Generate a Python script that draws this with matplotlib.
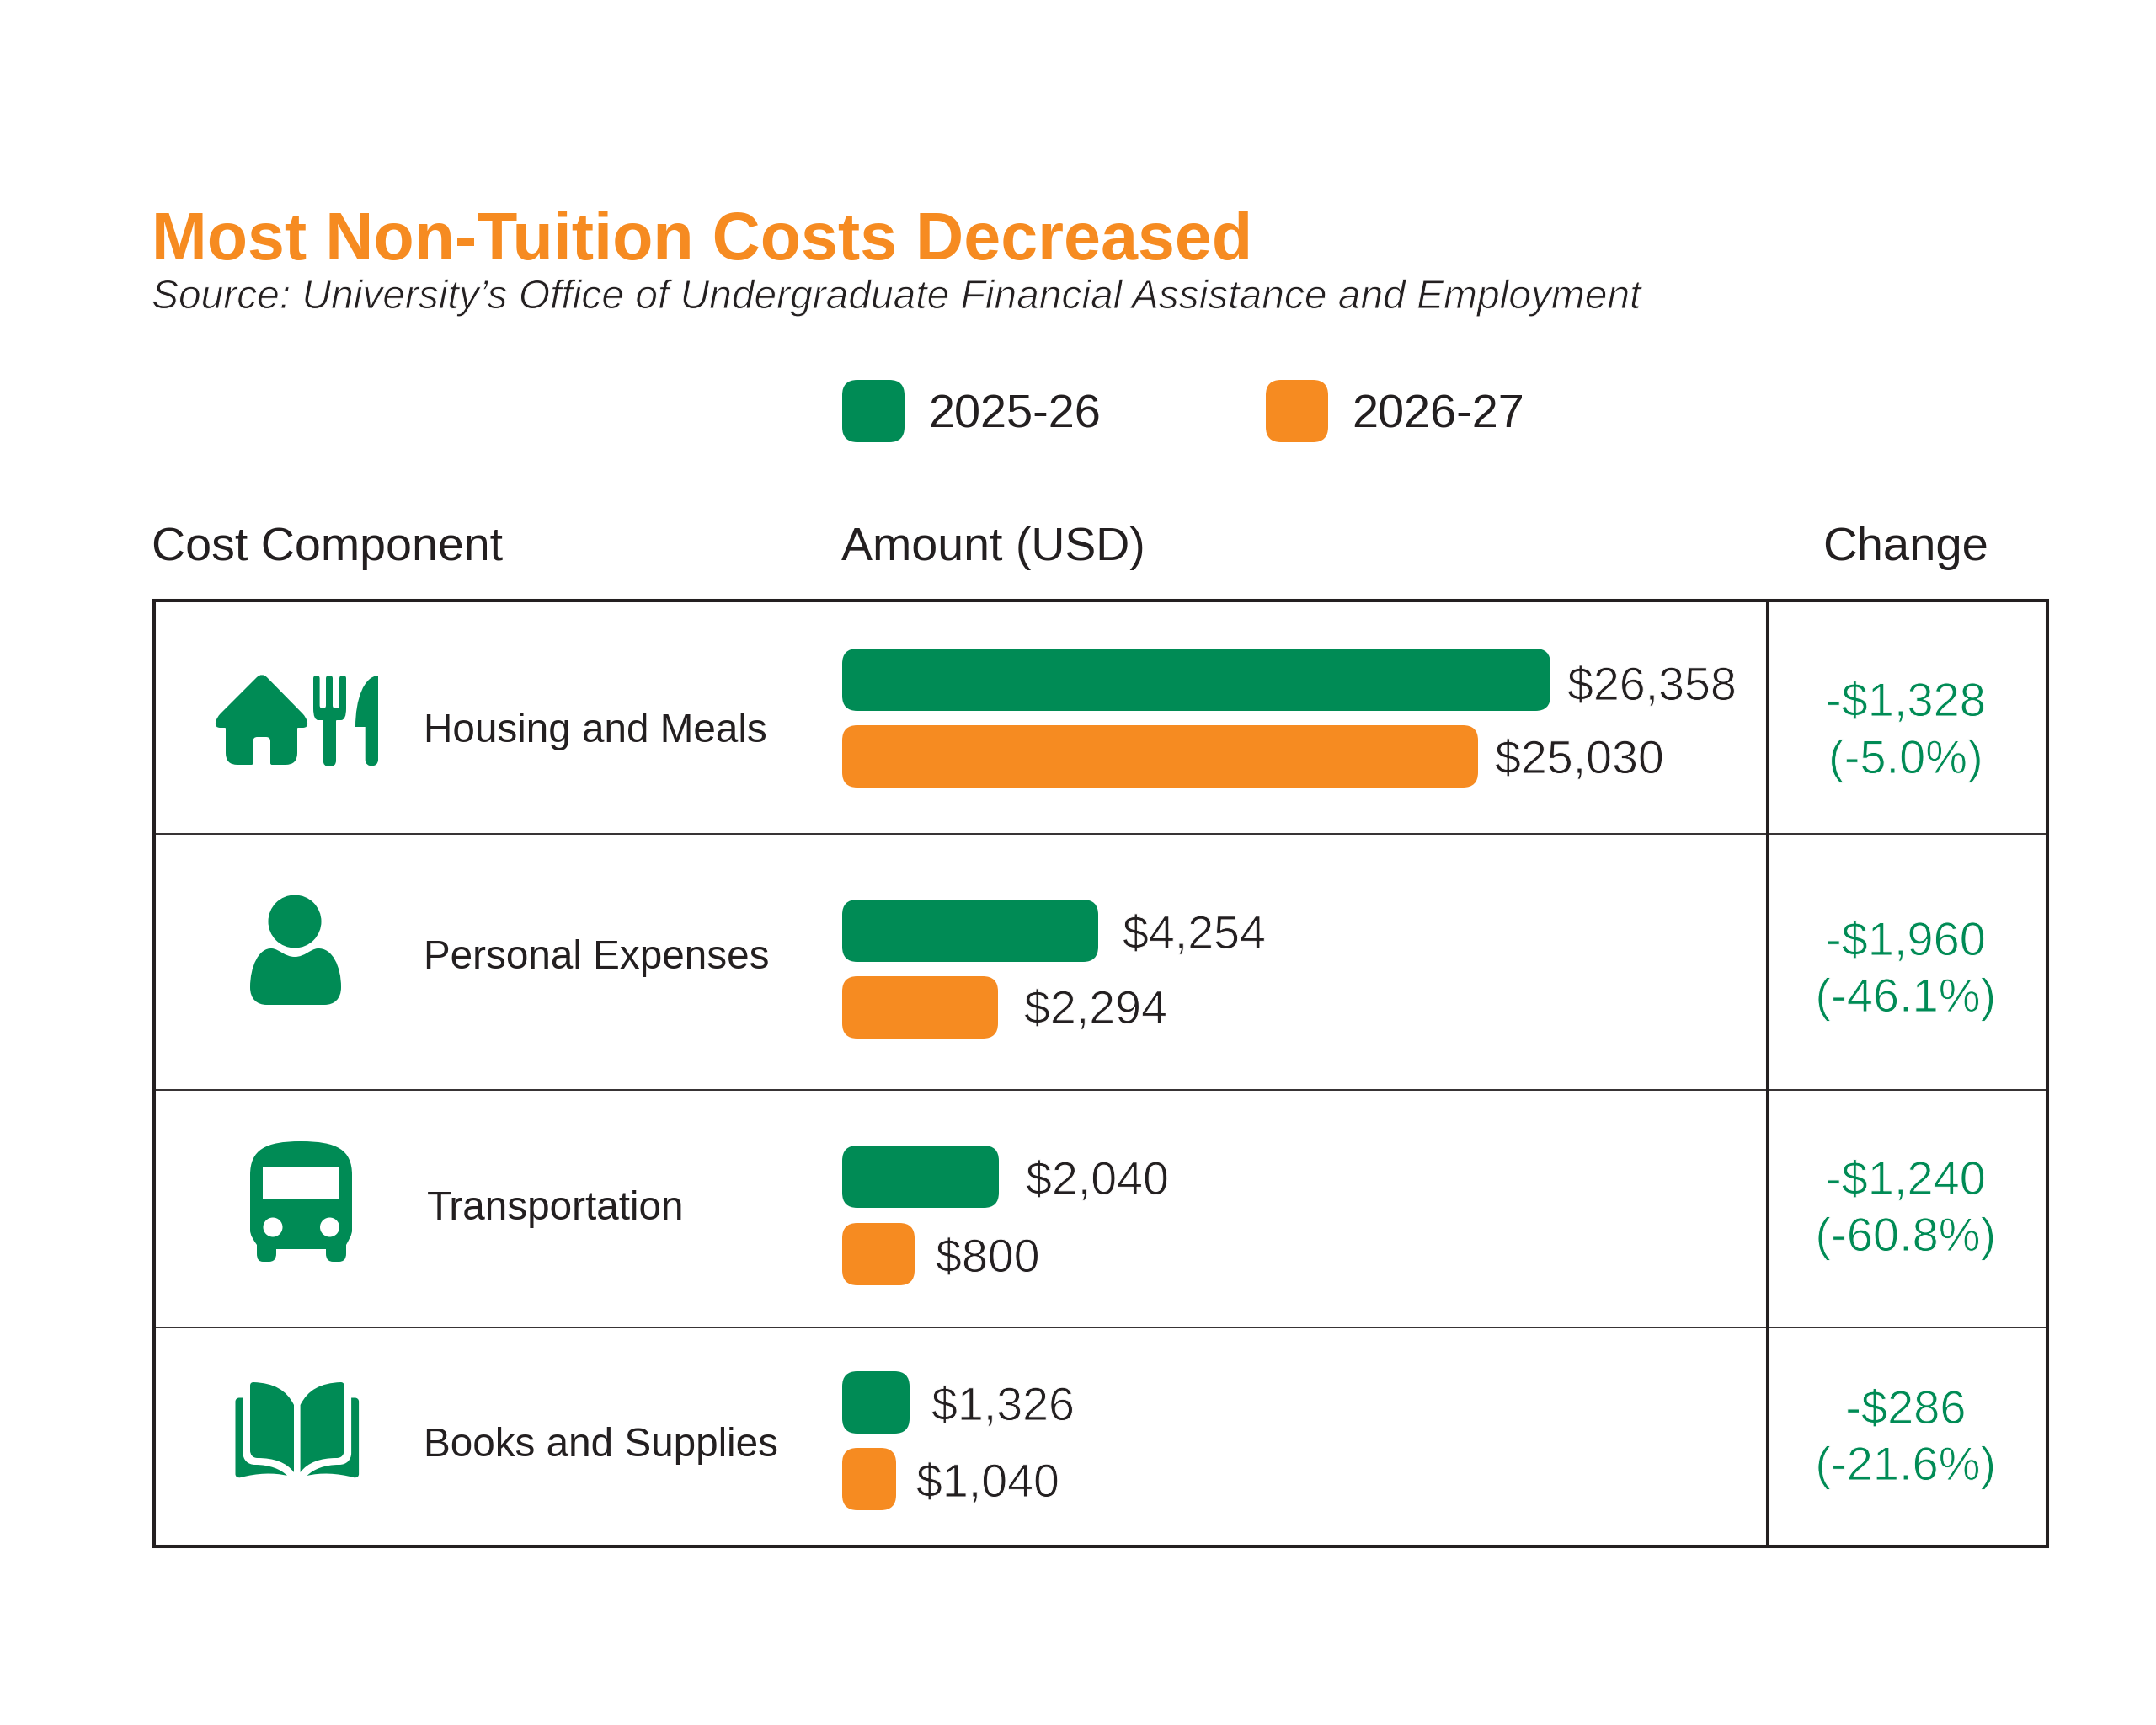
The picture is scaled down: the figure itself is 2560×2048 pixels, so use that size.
import matplotlib
matplotlib.use("Agg")
import matplotlib.pyplot as plt
import matplotlib.patheffects as pe
from matplotlib.patches import FancyBboxPatch, PathPatch, Ellipse, Rectangle
from matplotlib.path import Path

GREEN = "#008B55"
ORANGE = "#F68B21"
INK = "#231F20"

# data
categories = ["Housing and Meals", "Personal Expenses", "Transportation", "Books and Supplies"]
values_2025 = ["$26,358", "$4,254", "$2,040", "$1,326"]
values_2026 = ["$25,030", "$2,294", "$800", "$1,040"]
# bars in the original are not to scale with their labels, so keep drawn lengths (px)
drawn_2025 = [841, 304, 186, 80]
drawn_2026 = [755, 185, 86, 64]
change_amount = ["-$1,328", "-$1,960", "-$1,240", "-$286"]
change_pct = ["(-5.0%)", "(-46.1%)", "(-60.8%)", "(-21.6%)"]
series_names = ["2025-26", "2026-27"]

# layout, pixels of the 2560x2048 canvas
FRAME_L, FRAME_R, FRAME_T, FRAME_B = 182.5, 2431, 713, 1836
DIVIDER_X = 2099
ROW_LINES = [990, 1294, 1576]
BAR_X = 1000
BAR_H = 74
BAR_TOPS_2025 = [770, 1068, 1360, 1628]
BAR_TOPS_2026 = [861, 1159, 1452, 1719]
VAL_GAPS_2025 = [20, 29, 32, 26]
VAL_GAPS_2026 = [20, 31, 25, 24]
VAL_BASE_2025 = [831, 1126, 1418, 1686]
VAL_BASE_2026 = [918, 1215, 1510, 1777]
LABEL_X = [503, 503, 507, 503]
LABEL_BASE = [881, 1150, 1448, 1729]
CHANGE_X = 2263
CHANGE_BASE_1 = [850, 1134, 1418, 1690]
CHANGE_BASE_2 = [918, 1201, 1485, 1757]

plt.rcParams["font.family"] = ["Liberation Sans", "DejaVu Sans"]

fig = plt.figure(figsize=(25.6, 20.48), dpi=100, facecolor="white")
ax = fig.add_axes([0, 0, 1, 1])
ax.set_xlim(0, 2560)
ax.set_ylim(2048, 0)
ax.axis("off")

light = [pe.Stroke(linewidth=0.7, foreground="white")]


def rbar(x, y, w, h, color, r=18):
    ax.add_patch(FancyBboxPatch((x, y), w, h, boxstyle=f"round,pad=0,rounding_size={r}",
                                fc=color, ec="none", lw=0))


def rounded(points):
    # points: (x, y, corner radius); closed polygon with rounded corners
    n = len(points)
    verts, codes = [], []
    for i in range(n):
        x0, y0, _ = points[i - 1]
        x1, y1, r = points[i]
        x2, y2, _ = points[(i + 1) % n]
        d0 = ((x1 - x0) ** 2 + (y1 - y0) ** 2) ** 0.5
        d2 = ((x2 - x1) ** 2 + (y2 - y1) ** 2) ** 0.5
        a = (x1 + (x0 - x1) * min(r / d0, 0.5), y1 + (y0 - y1) * min(r / d0, 0.5))
        b = (x1 + (x2 - x1) * min(r / d2, 0.5), y1 + (y2 - y1) * min(r / d2, 0.5))
        verts += [a, (x1, y1), b]
        codes += [Path.LINETO, Path.CURVE3, Path.CURVE3]
    codes[0] = Path.MOVETO
    verts.append(verts[0])
    codes.append(Path.CLOSEPOLY)
    return Path(verts, codes)


def fill(path, color=GREEN):
    ax.add_patch(PathPatch(path, fc=color, ec="none", lw=0))


def curve(cmds):
    # M/L take one point, C takes three
    verts, codes = [], []
    for c, *pts in cmds:
        verts += pts
        codes += {"M": [Path.MOVETO], "L": [Path.LINETO], "C": [Path.CURVE4] * 3}[c]
    verts.append(verts[0])
    codes.append(Path.CLOSEPOLY)
    return Path(verts, codes)


def icon_meals():
    fill(rounded([(311, 798, 9), (364, 852, 7), (366, 864, 7), (353, 864, 1), (353, 908, 14),
                  (321, 908, 2), (321, 875, 5), (300.5, 875, 5), (300.5, 908, 2), (268, 908, 14),
                  (268, 864, 1), (255, 864, 7), (257, 852, 7)]))
    # fork
    fill(rounded([(372, 802, 3.5), (379.6, 802, 3.5), (379.6, 841, 3.5), (387, 841, 3.5), (387, 802, 3.5),
                  (395, 802, 3.5), (395, 841, 3.5), (403, 841, 3.5), (403, 802, 3.5), (411, 802, 3.5),
                  (411, 855, 14), (399, 855, 1), (399, 910, 7), (383.7, 910, 7), (383.7, 855, 1), (372, 855, 14)]))
    # knife
    fill(curve([("M", (449, 802)), ("C", (432, 803), (422, 830), (422, 863)), ("L", (433.7, 863)),
                ("L", (433.7, 902)), ("C", (433.7, 912), (449, 912), (449, 902))]))


def icon_person():
    ax.add_patch(Ellipse((350, 1094), 63, 63, fc=GREEN, ec="none"))
    fill(curve([("M", (323, 1126)), ("C", (332, 1127), (338, 1136), (350, 1136)),
                ("C", (362, 1136), (368, 1127), (377, 1126)),
                ("C", (395, 1125), (405, 1148), (405, 1172)),
                ("C", (405, 1186), (397, 1193), (385, 1193)), ("L", (317, 1193)),
                ("C", (305, 1193), (297, 1186), (297, 1172)),
                ("C", (297, 1148), (307, 1125), (323, 1126))]))


def icon_bus():
    fill(curve([("M", (357, 1355)), ("C", (400, 1355), (418, 1365), (418, 1395)), ("L", (418, 1460)),
                ("C", (418, 1467), (414, 1472), (411, 1478)), ("L", (411, 1488)),
                ("C", (411, 1495), (408, 1498), (402, 1498)), ("L", (396, 1498)),
                ("C", (390, 1498), (387, 1495), (387, 1488)), ("L", (387, 1483)), ("L", (328, 1483)), ("L", (328, 1488)),
                ("C", (328, 1495), (325, 1498), (319, 1498)), ("L", (313, 1498)),
                ("C", (307, 1498), (305, 1495), (305, 1488)), ("L", (305, 1478)),
                ("C", (301, 1472), (297, 1467), (297, 1460)), ("L", (297, 1395)),
                ("C", (297, 1365), (315, 1355), (357, 1355))]))
    ax.add_patch(Rectangle((312, 1386), 91, 37, fc="white", ec="none"))
    for cx in (324, 391.5):
        ax.add_patch(Ellipse((cx, 1457), 23, 23, fc="white", ec="none"))


def icon_book():
    for sgn in (1, -1):
        mx = lambda x: 352.8 + sgn * (x - 352.8)
        fill(curve([("M", (mx(301), 1641)), ("C", (mx(325), 1642), (mx(340), 1650), (mx(349), 1668)),
                    ("L", (mx(349), 1748)), ("C", (mx(340), 1736), (mx(325), 1731), (mx(306), 1731)),
                    ("C", (mx(300), 1731), (mx(297), 1727), (mx(297), 1722)), ("L", (mx(297), 1645)),
                    ("C", (mx(297), 1642), (mx(299), 1641), (mx(301), 1641))]))
        fill(curve([("M", (mx(288.5), 1659.5)), ("L", (mx(288.5), 1725)),
                    ("C", (mx(288.5), 1733), (mx(294), 1739), (mx(303), 1739)),
                    ("C", (mx(320), 1739), (mx(333), 1744), (mx(341), 1752)),
                    ("C", (mx(325), 1748), (mx(305), 1749), (mx(286), 1754)),
                    ("C", (mx(282), 1755), (mx(279.5), 1753), (mx(279.5), 1750)),
                    ("L", (mx(279.5), 1664)), ("C", (mx(279.5), 1661), (mx(282), 1659.5), (mx(284), 1659.5))]))


# title block
ax.text(180, 308, "Most Non-Tuition Costs Decreased", fontsize=56.9, fontweight="bold",
        color=ORANGE, va="baseline")
ax.text(180, 366, "Source: University\u2019s Office of Undergraduate Financial Assistance and Employment",
        fontsize=34.5, style="italic", color=INK, va="baseline", path_effects=light)

# legend
rbar(BAR_X, 451, 74, BAR_H, GREEN)
rbar(1503, 451, 74, BAR_H, ORANGE)
ax.text(1102, 507, series_names[0], fontsize=40.2, color=INK, va="baseline")
ax.text(1605, 507, series_names[1], fontsize=40.2, color=INK, va="baseline")

# headers
ax.text(180, 665, "Cost Component", fontsize=40, color=INK, va="baseline")
ax.text(BAR_X - 1, 665, "Amount (USD)", fontsize=40, color=INK, va="baseline")
ax.text(CHANGE_X, 665, "Change", fontsize=40.5, color=INK, va="baseline", ha="center")

# table lines
for y in ROW_LINES:
    ax.plot([FRAME_L, FRAME_R], [y, y], color=INK, lw=1.3, solid_capstyle="butt")
ax.plot([DIVIDER_X, DIVIDER_X], [FRAME_T, FRAME_B], color=INK, lw=2.9, solid_capstyle="butt")
ax.add_patch(Rectangle((FRAME_L, FRAME_T), FRAME_R - FRAME_L, FRAME_B - FRAME_T,
                       fc="none", ec=INK, lw=2.9))

# rows
for i, name in enumerate(categories):
    ax.text(LABEL_X[i], LABEL_BASE[i], name, fontsize=34.3, color=INK, va="baseline")
    rbar(BAR_X, BAR_TOPS_2025[i], drawn_2025[i], BAR_H, GREEN)
    rbar(BAR_X, BAR_TOPS_2026[i], drawn_2026[i], BAR_H, ORANGE)
    ax.text(BAR_X + drawn_2025[i] + VAL_GAPS_2025[i], VAL_BASE_2025[i], values_2025[i], fontsize=40,
            color=INK, va="baseline", path_effects=light)
    ax.text(BAR_X + drawn_2026[i] + VAL_GAPS_2026[i], VAL_BASE_2026[i], values_2026[i], fontsize=40,
            color=INK, va="baseline", path_effects=light)
    ax.text(CHANGE_X, CHANGE_BASE_1[i], change_amount[i], fontsize=40.3, color=GREEN,
            va="baseline", ha="center", path_effects=light)
    ax.text(CHANGE_X, CHANGE_BASE_2[i], change_pct[i], fontsize=40.3, color=GREEN,
            va="baseline", ha="center", path_effects=light)

icon_meals()
icon_person()
icon_bus()
icon_book()

fig.savefig("out.png", dpi=100, facecolor="white")
